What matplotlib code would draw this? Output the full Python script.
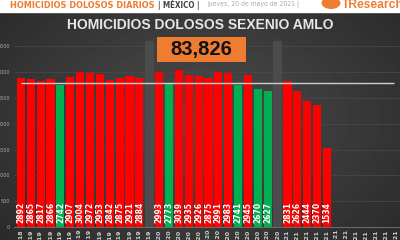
import numpy as np
import matplotlib
matplotlib.use('Agg')
import matplotlib.pyplot as plt
from matplotlib.patches import Rectangle, Circle

# monthly values, dic-18 .. may-21 (gaps mark the yearly separators)
months = ['dic-18', 'ene-19', 'feb-19', 'mar-19', 'abr-19', 'may-19', 'jun-19', 'jul-19',
          'ago-19', 'sep-19', 'oct-19', 'nov-19', 'dic-19', '2019',
          'ene-20', 'feb-20', 'mar-20', 'abr-20', 'may-20', 'jun-20', 'jul-20', 'ago-20',
          'sep-20', 'oct-20', 'nov-20', 'dic-20', '2020',
          'ene-21', 'feb-21', 'mar-21', 'abr-21', 'may-21', 'jun-21', 'jul-21',
          'ago-21', 'sep-21', 'oct-21', 'nov-21', 'dic-21']
values = [2892, 2865, 2817, 2866, 2742, 2907, 3004, 2972, 2953, 2842, 2875, 2921, 2884, None,
          2993, 2773, 3039, 2935, 2926, 2875, 2991, 2983, 2741, 2945, 2670, 2627, None,
          2831, 2626, 2444, 2370, 1534, None, None, None, None, None, None, None]
# months below the average are green
below_avg = ['abr-19', 'feb-20', 'sep-20', 'nov-20', 'dic-20']
separators = ['2019', '2020']
avg_line = 2780
total = '83,826'

RED = '#ff0000'
GREEN = '#00b050'
ORANGE = '#ef7d31'


def fit_width(fig, t, px):
    # shrink a text until it is px pixels wide
    r = fig.canvas.get_renderer()
    w = t.get_window_extent(r).width
    t.set_fontsize(t.get_fontsize() * px / w)


fig = plt.figure(figsize=(4, 2.4), dpi=100)
fig.patch.set_facecolor('#3a3a3a')

# dark background with a lighter centre
bg = fig.add_axes([0, 0, 1, 1], zorder=-10)
xx, yy = np.meshgrid(np.linspace(-1, 1, 200), np.linspace(-1, 1, 120))
r = np.sqrt((xx * 0.9) ** 2 + (yy * 0.8) ** 2)
bg.imshow(0.30 - 0.11 * r, cmap='gray', vmin=0, vmax=1, aspect='auto', extent=[0, 1, 0, 1])
bg.set_xlim(0, 1)
bg.set_ylim(0, 1)
bg.axis('off')

# white header strip (text is clipped at the top, like the source)
hy = 1 - 5 / 240
bg.add_patch(Rectangle((0, 1 - 12 / 240), 1, 12 / 240, color='white', zorder=2))
hdr = dict(va='center', ha='left', zorder=3, family='DejaVu Sans', fontstretch='condensed')
h1 = bg.text(10 / 400, hy, 'HOMICIDIOS DOLOSOS DIARIOS', color=ORANGE, fontsize=8,
             fontweight='bold', **hdr)
h2 = bg.text(158 / 400, hy, '| MÉXICO |', color='#444444', fontsize=8, fontweight='bold', **hdr)
h3 = bg.text(207 / 400, hy, 'jueves, 20 de mayo de 2021 |', color='#aaaaaa', fontsize=6, **hdr)
bg.add_patch(Circle((331 / 400, 1 - 3 / 240), 0.022, transform=bg.transAxes, color=ORANGE,
                    zorder=3))
h4 = bg.text(342 / 400, hy, 'TResearch', color=ORANGE, fontsize=8, fontweight='bold',
             family='Liberation Sans', va='center', ha='left', zorder=3)
fit_width(fig, h1, 145)
fit_width(fig, h2, 42)
fit_width(fig, h3, 92)
fit_width(fig, h4, 62)

# title and total box
fig.text(0.5, 1 - 25 / 240, 'HOMICIDIOS DOLOSOS SEXENIO AMLO', color='#e6e6e6', fontsize=10,
         fontweight='bold', family='Liberation Sans', ha='center', va='center')
fig.patches.append(Rectangle((157 / 400, 1 - 62 / 240), 89 / 400, 25 / 240,
                             transform=fig.transFigure, fc=ORANGE, ec='none', zorder=4))
fig.text(201 / 400, 1 - 50 / 240, total, color='#111111', fontsize=14.5, fontweight='bold',
         family='Liberation Sans', ha='center', va='center', zorder=5)

ax = fig.add_axes([14 / 400, 13 / 240, 389 / 400, 186 / 240])
ax.set_facecolor('none')
x = np.arange(len(months))

# lighter columns for the year separators
ylim_top = 3600
for i, m in enumerate(months):
    if m in separators:
        ax.bar(i, ylim_top, width=0.95, color='#4b4b4b', zorder=1)

for i, (m, v) in enumerate(zip(months, values)):
    if v is None:
        continue
    c = GREEN if m in below_avg else RED
    ax.bar(i, v, width=0.82, color=c, zorder=2)
    ax.text(i, 80, f'{v}', rotation=90, color='white', fontsize=5.5, fontweight='bold',
            ha='center', va='bottom', zorder=4)

ax.hlines(avg_line, 0, len(months) - 1.2, color='#cfcfcf', lw=1, zorder=3)

ax.set_xlim(-0.7, len(months) - 0.3)
ax.set_ylim(0, ylim_top)
ax.set_yticks(np.arange(0, 3501, 500))
ax.yaxis.grid(True, color='#4a4a4a', lw=0.5)
ax.set_axisbelow(True)
ax.tick_params(axis='y', labelsize=3.5, colors='#aaaaaa', length=0, pad=3)
ax.set_xticks(x)
ax.set_xticklabels(months, rotation=90, fontsize=4.5, color='#cccccc', fontweight='bold')
ax.tick_params(axis='x', length=0, pad=2)
for s in ['top', 'right', 'left']:
    ax.spines[s].set_visible(False)
ax.spines['bottom'].set_color('#777777')
ax.spines['bottom'].set_linewidth(0.6)

fig.savefig('out.png', dpi=100, facecolor=fig.get_facecolor())
